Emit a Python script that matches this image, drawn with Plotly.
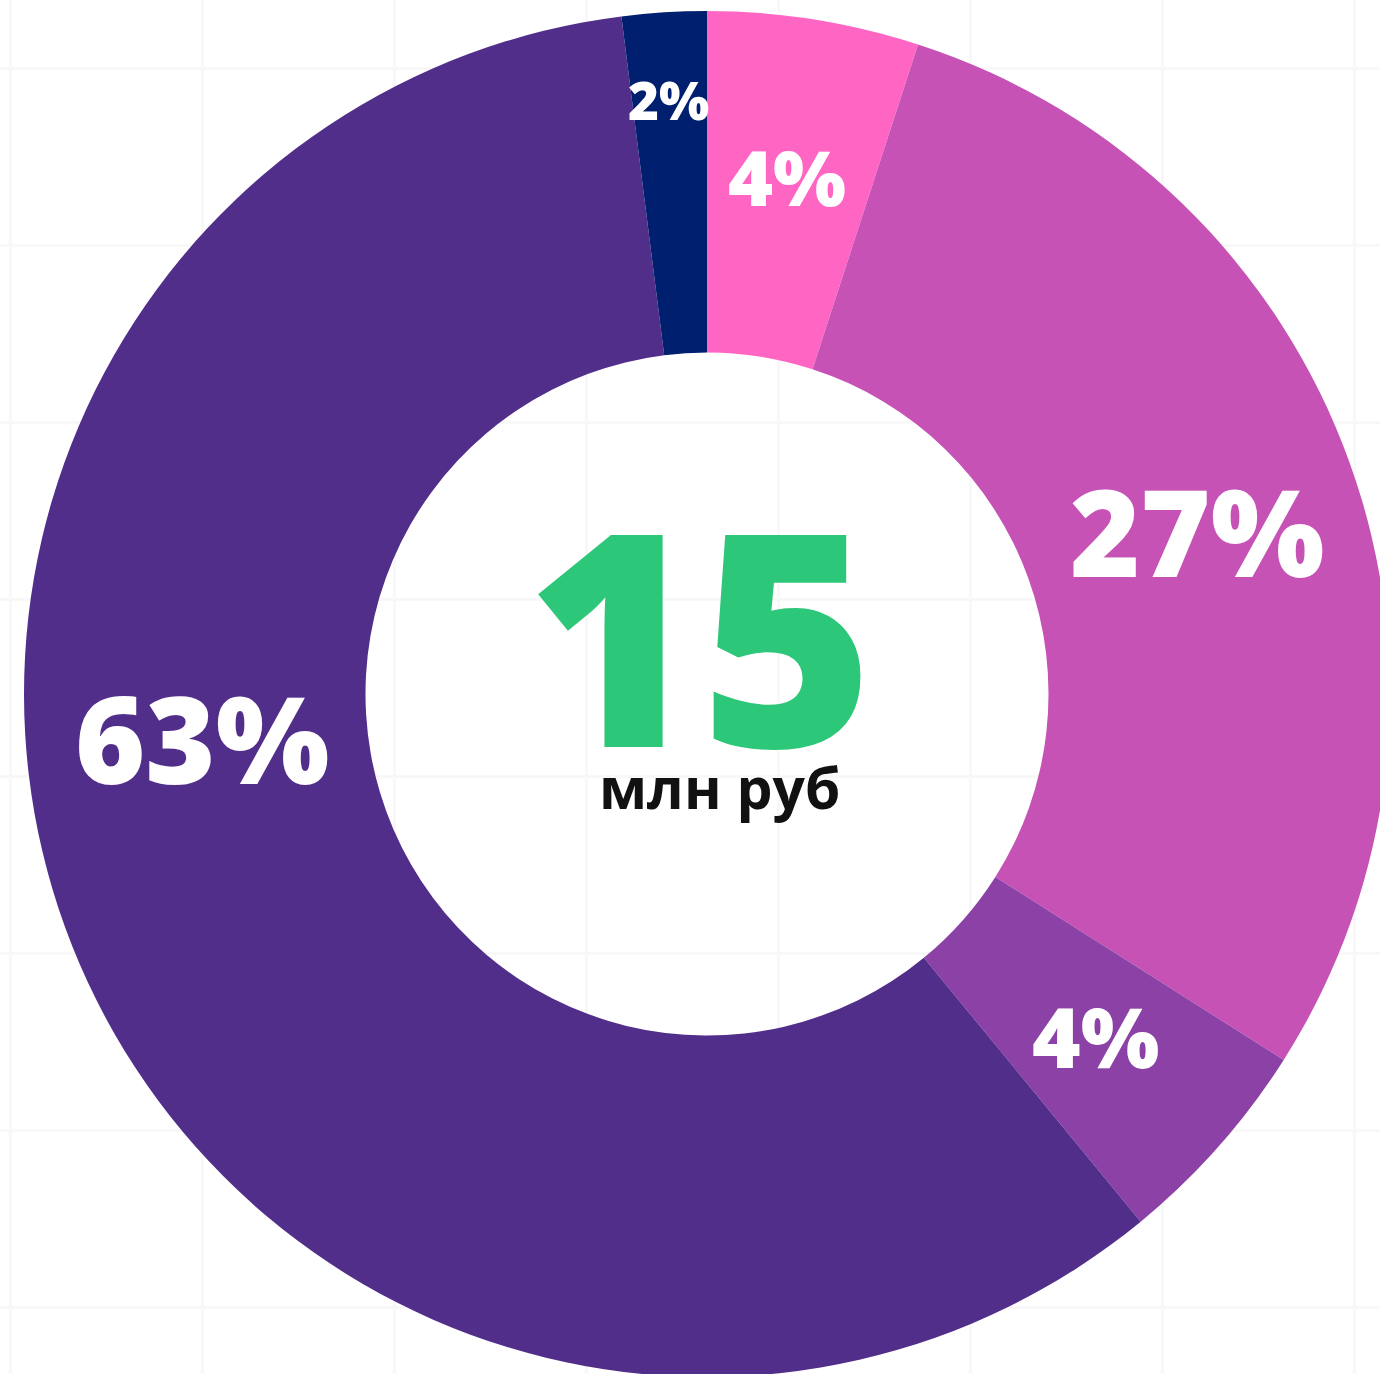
import plotly.graph_objects as go

# Data (labels as printed on the chart)
categories = ["A", "B", "C", "D", "E"]
values = [5.0, 29.0, 5.05, 58.95, 2.0]
labels_text = ["4%", "27%", "4%", "63%", "2%"]
center_value = "15"
center_unit = "млн руб"

# Styling
colors = ["#FF66C4", "#C652B6", "#8B41A5", "#522E8B", "#001F6E"]
label_sizes = [77, 120, 83, 120, 53]
label_px = [(787, 179), (1197, 534), (1095, 1038), (202, 741), (668, 101)]

W, H = 1400, 1390
cx, cy, R = 707, 694, 683

fig = go.Figure()
# empty trace so the faint background grid is drawn
fig.add_trace(go.Scatter(x=[], y=[], showlegend=False, hoverinfo="skip"))
fig.add_trace(go.Pie(
    labels=categories,
    values=values,
    textinfo="none",
    sort=False,
    direction="clockwise",
    rotation=0,
    hole=0.5,
    marker=dict(colors=colors, line=dict(width=0)),
    domain=dict(x=[(cx - R) / W, (cx + R) / W], y=[(H - (cy + R)) / H, (H - (cy - R)) / H]),
    showlegend=False,
    hoverinfo="skip",
))

for txt, size, (px, py) in zip(labels_text, label_sizes, label_px):
    fig.add_annotation(text=txt, x=px / W, y=(H - (py - 0.03 * size)) / H,
                       xref="paper", yref="paper", showarrow=False,
                       xanchor="center", yanchor="middle",
                       font=dict(family="Open Sans", size=size, color="white", weight=800))

fig.add_annotation(text=center_value, x=700 / W, y=(H - 632) / H, xref="paper", yref="paper",
                   showarrow=False, xanchor="center", yanchor="middle",
                   font=dict(family="Open Sans", size=297, color="#2DC779", weight=800))
fig.add_annotation(text=center_unit, x=719 / W, y=(H - 787) / H, xref="paper", yref="paper",
                   showarrow=False, xanchor="center", yanchor="middle",
                   font=dict(family="Open Sans", size=57, color="#111111", weight=700))

fig.update_layout(
    width=W, height=H,
    margin=dict(l=0, r=0, t=0, b=0),
    paper_bgcolor="white", plot_bgcolor="white",
    xaxis=dict(range=[0, W], showgrid=True, gridcolor="#F8F8F8", gridwidth=3, tick0=10, dtick=192,
               showticklabels=False, zeroline=False, showline=False, fixedrange=True, ticks=""),
    yaxis=dict(range=[H, 0], showgrid=True, gridcolor="#F8F8F8", gridwidth=3, tick0=68, dtick=177,
               showticklabels=False, zeroline=False, showline=False, fixedrange=True, ticks=""),
)

fig.write_html("out.html", config={"displayModeBar": False},
               post_script="document.body.style.margin='0';document.body.style.overflow='hidden';")
